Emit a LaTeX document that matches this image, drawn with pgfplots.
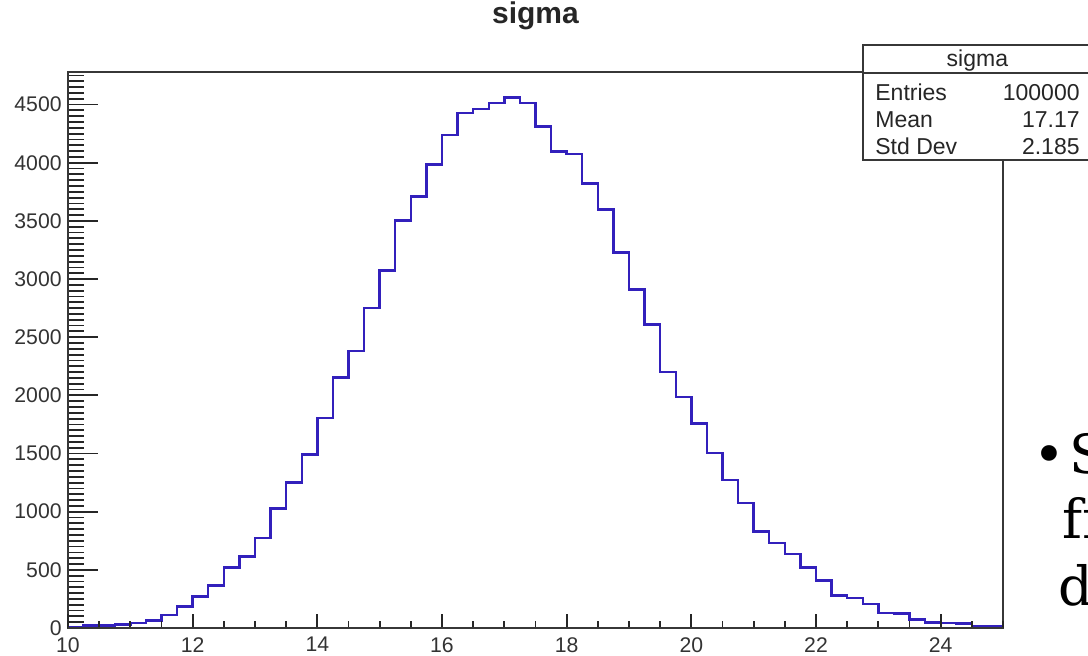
\documentclass[border=0pt]{standalone}
\usepackage{fontspec}
\setmainfont{Liberation Sans}
\newfontfamily\slab{DejaVu Serif}
\usepackage{pgfplots}
\pgfplotsset{compat=1.18}

\definecolor{histblue}{RGB}{50,32,188}
\definecolor{framegray}{RGB}{55,55,55}

\pgfplotsset{
  sigmaframe/.style={
    scale only axis,
    width=467.5pt, height=278pt,
    at={(34pt,-314pt)}, anchor=south west,
    xmin=10, xmax=25, ymin=0, ymax=4780,
    scaled ticks=false,
    /pgf/number format/1000 sep={},
    /pgf/number format/assume math mode=true,
    ticklabel style={font=\fontsize{10.6}{12}\selectfont, text=black!80},
    every tick/.style={black!85, line width=0.9pt},
  },
}

\begin{document}
\begin{tikzpicture}
% frame, short y ticks every 50 and the histogram
\begin{axis}[
  sigmaframe,
  xtick=\empty,
  ytick={0,50,...,4750},
  yticklabel=\empty,
  tick pos=left,
  tick align=inside,
  major tick length=8pt,
  axis line style={framegray, line width=1.3pt},
  title={sigma},
  title style={at={(0.5,1)}, anchor=base, yshift=18.5pt, inner sep=0pt,
    font=\bfseries\fontsize{15}{18}\selectfont, text=black!85},
]
\addplot[const plot, histblue, line width=1.2pt] coordinates {
  (10,3) (10.25,20) (10.5,20) (10.75,30) (11,43) (11.25,66) (11.5,112) (11.75,186)
  (12,272) (12.25,364) (12.5,521) (12.75,616) (13,774) (13.25,1026) (13.5,1252) (13.75,1490)
  (14,1805) (14.25,2155) (14.5,2384) (14.75,2751) (15,3072) (15.25,3502) (15.5,3711) (15.75,3984)
  (16,4240) (16.25,4428) (16.5,4460) (16.75,4514) (17,4560) (17.25,4514) (17.5,4310) (17.75,4098)
  (18,4075) (18.25,3820) (18.5,3597) (18.75,3230) (19,2909) (19.25,2608) (19.5,2201) (19.75,1986)
  (20,1757) (20.25,1505) (20.5,1275) (20.75,1075) (21,831) (21.25,731) (21.5,636) (21.75,521)
  (22,410) (22.25,278) (22.5,258) (22.75,205) (23,129) (23.25,125) (23.5,72) (23.75,48)
  (24,43) (24.25,38) (24.5,14) (24.75,14) (25,14)
};
\end{axis}

% major y ticks with their labels
\begin{axis}[
  sigmaframe,
  hide x axis,
  axis y line*=left,
  axis line style={framegray, line width=1.3pt},
  xtick=\empty,
  ytick={0,500,...,4500},
  tick align=inside,
  major tick length=15pt,
  yticklabel style={inner sep=0pt, anchor=east, xshift=-3pt},
]
\end{axis}

% x ticks, which are shorter than the y ticks
\begin{axis}[
  sigmaframe,
  hide y axis,
  axis x line*=bottom,
  axis line style={framegray, line width=1.3pt},
  xtick={10,12,...,24},
  minor xtick={10,10.5,...,25},
  ytick=\empty,
  tick align=inside,
  major tick length=7pt,
  minor tick length=3.5pt,
  xticklabel style={inner sep=0pt, anchor=north, yshift=-4.5pt},
]
\end{axis}

% statistics box
\draw[framegray, line width=1.1pt, fill=white] (431.5pt,-22.5pt) rectangle (545pt,-80pt);
\draw[framegray, line width=1.1pt] (431.5pt,-36.5pt) -- (545pt,-36.5pt);
\begin{scope}[every node/.style={inner sep=0pt, text=black!85, font=\fontsize{11.5}{13}\selectfont}]
  \node[anchor=base] at (488.7pt,-33pt) {sigma};
  \node[anchor=base west] at (437.5pt,-50pt) {Entries};
  \node[anchor=base east] at (540pt,-50pt) {100000};
  \node[anchor=base west] at (437.5pt,-63.5pt) {Mean};
  \node[anchor=base east] at (540pt,-63.5pt) {17.17};
  \node[anchor=base west] at (437.5pt,-77pt) {Std Dev};
  \node[anchor=base east] at (540pt,-77pt) {2.185};
\end{scope}

% slide text running off the right edge
\begin{scope}[every node/.style={inner sep=0pt, font=\slab\fontsize{27}{32}\selectfont}]
  \node[anchor=base] at (524.5pt,-236.5pt) {•};
  \node[anchor=base west] at (534.5pt,-236.5pt) {Sigma};
  \node[anchor=base west] at (531pt,-269pt) {from};
  \node[anchor=base west] at (529pt,-302.5pt) {data};
\end{scope}

\pgfresetboundingbox
\path[use as bounding box] (0pt,0pt) rectangle (544pt,-327.5pt);
\end{tikzpicture}
\end{document}
